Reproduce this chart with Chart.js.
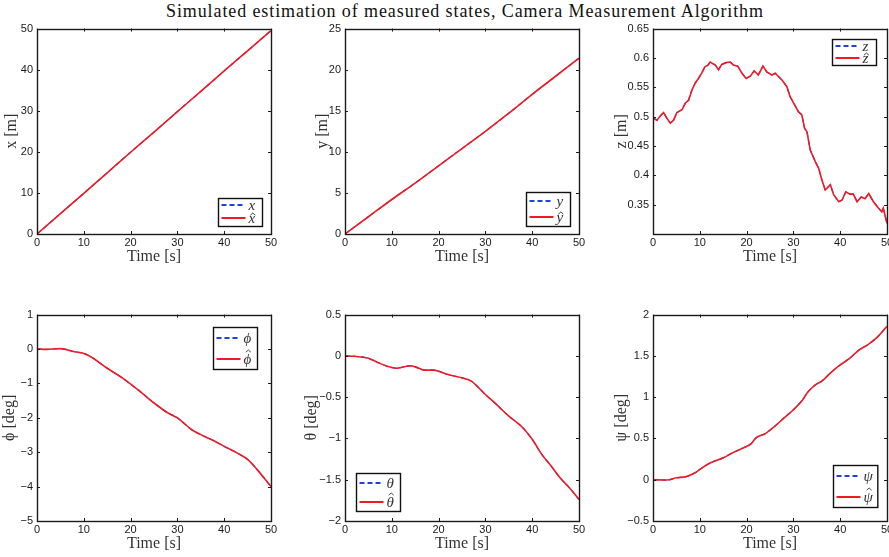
<!DOCTYPE html>
<html>
<head>
<meta charset="utf-8">
<script src="https://cdn.jsdelivr.net/npm/chart.js@4.4.1/dist/chart.umd.min.js"></script>
<style>
  body { margin: 0; background: #fff; overflow: hidden; width: 889px; height: 557px; position: relative; }
  #title { position: absolute; left: 166px; top: 1px; white-space: nowrap;
           font: 18px 'Liberation Serif', serif; color: #111; }
  canvas { position: absolute; }
</style>
</head>
<body>
<div id="title"><span id="titleText">Simulated estimation of measured states, Camera Measurement Algorithm</span></div>
<canvas id="cx"></canvas>
<canvas id="cy"></canvas>
<canvas id="cz"></canvas>
<canvas id="cphi"></canvas>
<canvas id="ctheta"></canvas>
<canvas id="cpsi"></canvas>
<script>
// time axis, same for every panel
var timeTicks = [0, 10, 20, 30, 40, 50];

// x position [m]
var tX = [0, 5, 10, 15, 20, 25, 30, 35, 40, 45, 50];
var xPos = [0, 4.95, 9.9, 14.9, 19.9, 24.8, 29.8, 34.7, 39.7, 44.6, 49.5];
var xTicks = [0, 10, 20, 30, 40, 50];

// y position [m]
var tY = [0, 5, 10, 15, 20, 25, 30, 35, 40, 45, 50];
var yPos = [0, 2.1, 4.2, 6.2, 8.3, 10.4, 12.5, 14.7, 17.0, 19.2, 21.4];
var yTicks = [0, 5, 10, 15, 20, 25];

// z position [m] (noisy)
var tZ = [0.1, 0.85, 1.55, 2.25, 3.0, 3.7, 4.4, 5.1, 6.2, 6.9, 7.6, 8.3, 9.0, 9.7, 10.4, 11.1, 11.8, 12.2,
          13.3, 14.0, 14.7, 15.6, 16.5, 17.2, 18.1, 19.0, 19.9, 20.8, 21.6, 22.5, 23.5, 24.3, 25.4, 26.1,
          27.6, 28.6, 29.3, 30.2, 31.1, 31.8, 32.4, 32.9, 33.6, 34.7, 35.4, 36.1, 36.8, 37.9, 38.6, 39.7,
          40.4, 41.2, 42.1, 42.8, 43.6, 44.5, 45.3, 46.1, 47.1, 48.2, 48.9, 49.2, 50];
var zPos = [0.497, 0.494, 0.501, 0.507, 0.497, 0.489, 0.494, 0.507, 0.512, 0.523, 0.528, 0.545, 0.557, 0.565,
            0.574, 0.585, 0.588, 0.593, 0.588, 0.580, 0.589, 0.592, 0.593, 0.588, 0.586, 0.574, 0.565, 0.569,
            0.578, 0.571, 0.586, 0.576, 0.571, 0.574, 0.562, 0.551, 0.534, 0.521, 0.508, 0.503, 0.480, 0.474,
            0.443, 0.423, 0.412, 0.392, 0.375, 0.384, 0.367, 0.355, 0.358, 0.372, 0.368, 0.368, 0.355, 0.363,
            0.360, 0.369, 0.355, 0.344, 0.338, 0.344, 0.318];
var zTicks = [0.35, 0.4, 0.45, 0.5, 0.55, 0.6, 0.65];

// roll phi [deg]
var tPhi = [0, 2, 5, 8, 10, 11, 12, 15, 18, 20, 22, 25, 28, 30, 33, 35, 38, 40, 43, 45, 47, 50];
var phiVal = [0, -0.01, 0.01, -0.08, -0.13, -0.19, -0.27, -0.56, -0.82, -1.02, -1.23, -1.57, -1.86, -2.0,
              -2.34, -2.49, -2.68, -2.83, -3.04, -3.21, -3.5, -4.0];
var phiTicks = [-5, -4, -3, -2, -1, 0, 1];

// pitch theta [deg]
var tTheta = [0, 2, 5, 7, 9, 11, 12, 14, 15, 17, 19, 20, 22, 25, 27, 28, 30, 32, 35, 38, 40, 42, 44, 46, 48, 50];
var thetaVal = [0, -0.005, -0.03, -0.08, -0.125, -0.15, -0.14, -0.12, -0.133, -0.173, -0.173, -0.185, -0.226,
                -0.266, -0.306, -0.355, -0.468, -0.569, -0.73, -0.87, -1.01, -1.19, -1.33, -1.48, -1.6, -1.74];
var thetaTicks = [-2, -1.5, -1, -0.5, 0, 0.5];

// yaw psi [deg]
var tPsi = [0, 3, 5, 7, 9, 10, 12, 15, 17, 19, 21, 22, 24, 26, 28, 30, 32, 33, 35, 36, 38, 40, 42, 44, 46, 48, 50];
var psiVal = [0, -0.004, 0.024, 0.036, 0.084, 0.125, 0.197, 0.265, 0.326, 0.378, 0.438, 0.506, 0.559, 0.647,
              0.748, 0.848, 0.969, 1.057, 1.162, 1.19, 1.298, 1.39, 1.47, 1.57, 1.64, 1.73, 1.86];
var psiTicks = [-0.5, 0, 0.5, 1, 1.5, 2];

// fit the title to the width it has in the figure
(function () {
  var s = document.getElementById('titleText');
  var w = s.getBoundingClientRect().width;
  var n = s.textContent.length - 1;
  s.style.letterSpacing = ((597 - w) / n) + 'px';
})();

var TICK_FONT = { family: "'Liberation Sans', Arial, sans-serif", size: 11 };
var LABEL_FONT = { family: "'Liberation Serif', serif", size: 16 };
var W_Y = 44, H_X = 36, PAD_T = 10, PAD_R = 10, PLOT_W = 234;
var HAT = '\u0302';

function fmt(v) {
  var s = String(+v.toFixed(2));
  return s.replace('-', '\u2212');
}

// MATLAB style box, inward tick marks and legend inside the axes
var matlabBox = {
  id: 'matlabBox',
  afterDraw: function (chart, args, o) {
    var ctx = chart.ctx, a = chart.chartArea;
    var xs = chart.scales.x, ys = chart.scales.y;
    ctx.save();
    ctx.strokeStyle = '#1a1a1a';
    ctx.lineWidth = 1;
    ctx.beginPath();
    xs.ticks.forEach(function (t) {
      var p = Math.round(xs.getPixelForValue(t.value)) + 0.5;
      ctx.moveTo(p, a.bottom); ctx.lineTo(p, a.bottom - 3);
      ctx.moveTo(p, a.top); ctx.lineTo(p, a.top + 3);
    });
    ys.ticks.forEach(function (t) {
      var p = Math.round(ys.getPixelForValue(t.value)) + 0.5;
      ctx.moveTo(a.left, p); ctx.lineTo(a.left + 3, p);
      ctx.moveTo(a.right, p); ctx.lineTo(a.right - 3, p);
    });
    ctx.stroke();
    ctx.lineWidth = 1.4;
    ctx.strokeRect(Math.round(a.left) + 0.5, Math.round(a.top) + 0.5,
                   Math.round(a.right - a.left), Math.round(a.bottom - a.top));

    // legend
    var sets = chart.data.datasets;
    ctx.font = 'italic 15px "Liberation Serif", serif';
    var lw = 0;
    sets.forEach(function (d) { lw = Math.max(lw, ctx.measureText(d.label.replace(HAT, '')).width); });
    var w = Math.max(o.boxW || 44, 29 + lw + 6);
    var h = sets.length * o.rowGap + 2;
    var bx = o.corner.indexOf('w') >= 0 ? a.left + o.gapX : a.right - o.gapX - w;
    var by = o.corner.indexOf('n') >= 0 ? a.top + o.gapY : a.bottom - o.gapY - h;
    bx = Math.round(bx) + 0.5; by = Math.round(by) + 0.5;
    ctx.fillStyle = '#fff';
    ctx.fillRect(bx, by, w, h);
    ctx.strokeStyle = '#111';
    ctx.lineWidth = 1.4;
    ctx.strokeRect(bx, by, w, h);
    sets.forEach(function (d, i) {
      var ry = Math.round(by + 1 + o.rowGap * (i + 0.45) + (i ? o.hatShift || 0 : 0));
      ctx.beginPath();
      ctx.strokeStyle = d.borderColor;
      ctx.lineWidth = 2;
      ctx.setLineDash(d.borderDash || []);
      ctx.moveTo(bx + 3, ry); ctx.lineTo(bx + 27, ry);
      ctx.stroke();
      ctx.setLineDash([]);
      ctx.fillStyle = '#333';
      ctx.textBaseline = 'middle';
      ctx.textAlign = 'left';
      var base = d.label.replace(HAT, '');
      ctx.fillText(base, bx + 30, ry + 1);
      if (d.label.indexOf(HAT) >= 0) {
        // the circumflex accent over the letter
        var cx = bx + 30 + ctx.measureText(base).width / 2 + 1;
        var top = ry - o.hatLift;
        ctx.beginPath();
        ctx.strokeStyle = '#333';
        ctx.lineWidth = 0.9;
        ctx.moveTo(cx - 2.5, top + 2.2);
        ctx.lineTo(cx, top);
        ctx.lineTo(cx + 2.5, top + 2.2);
        ctx.stroke();
      }
    });
    ctx.restore();
  }
};

function makePanel(p) {
  var cv = document.getElementById(p.id);
  cv.width = W_Y + PLOT_W + PAD_R;
  cv.height = PAD_T + p.plotH + H_X;
  cv.style.left = (p.plotLeft - W_Y) + 'px';
  cv.style.top = (p.plotTop - PAD_T) + 'px';
  var ytPad = p.yTitleX - (p.plotLeft - W_Y) - LABEL_FONT.size * 0.6;
  var pts = p.t.map(function (t, i) { return { x: t, y: p.v[i] }; });
  var smooth = p.smooth ? 'monotone' : 'default';
  return new Chart(cv.getContext('2d'), {
    type: 'line',
    data: {
      datasets: [
        { label: p.names[0], data: pts, borderColor: '#2040e0', borderWidth: 1.2, borderDash: [5, 3],
          pointRadius: 0, order: 1, cubicInterpolationMode: smooth },
        { label: p.names[1], data: pts, borderColor: '#ee1b24', borderWidth: 1.6,
          pointRadius: 0, order: 0, cubicInterpolationMode: smooth }
      ]
    },
    options: {
      responsive: false,
      animation: false,
      devicePixelRatio: 1,
      layout: { padding: { top: PAD_T, right: PAD_R, left: 0, bottom: 0 } },
      plugins: {
        legend: { display: false },
        tooltip: { enabled: false },
        matlabBox: p.legend
      },
      scales: {
        x: {
          type: 'linear', min: 0, max: 50,
          afterBuildTicks: function (s) { s.ticks = timeTicks.map(function (v) { return { value: v }; }); },
          afterFit: function (s) { s.height = H_X; },
          grid: { display: false, drawTicks: false },
          border: { display: false },
          ticks: { font: TICK_FONT, color: '#1a1a1a', padding: 2, maxRotation: 0, callback: fmt },
          title: { display: true, text: 'Time [s]', font: LABEL_FONT, color: '#333', padding: { top: 0, bottom: 4 } }
        },
        y: {
          type: 'linear', min: p.yMin, max: p.yMax,
          afterBuildTicks: function (s) { s.ticks = p.yTicks.map(function (v) { return { value: v }; }); },
          afterFit: function (s) { s.width = W_Y; },
          grid: { display: false, drawTicks: false },
          border: { display: false },
          ticks: { font: TICK_FONT, color: '#1a1a1a', padding: 4, callback: fmt },
          title: { display: true, text: p.yTitle, font: LABEL_FONT, color: '#333', padding: { top: ytPad, bottom: 0 } }
        }
      }
    },
    plugins: [matlabBox]
  });
}

var panels = [
  { id: 'cx', t: tX, v: xPos, yMin: 0, yMax: 50, yTicks: xTicks, yTitle: 'x [m]', names: ['x', 'x' + HAT],
    plotLeft: 37, plotTop: 28, plotH: 206, yTitleX: 12, smooth: true,
    legend: { corner: 'se', gapX: 9, gapY: 8, rowGap: 13, hatLift: 5 } },
  { id: 'cy', t: tY, v: yPos, yMin: 0, yMax: 25, yTicks: yTicks, yTitle: 'y [m]', names: ['y', 'y' + HAT],
    plotLeft: 345, plotTop: 28, plotH: 206, yTitleX: 323, smooth: true,
    legend: { corner: 'se', gapX: 9, gapY: 8, rowGap: 16, hatLift: 5 } },
  { id: 'cz', t: tZ, v: zPos, yMin: 0.3, yMax: 0.65, yTicks: zTicks, yTitle: 'z [m]', names: ['z', 'z' + HAT],
    plotLeft: 653, plotTop: 28, plotH: 206, yTitleX: 622, smooth: false,
    legend: { corner: 'ne', gapX: 11, gapY: 10, rowGap: 12, hatLift: 5 } },
  { id: 'cphi', t: tPhi, v: phiVal, yMin: -5, yMax: 1, yTicks: phiTicks, yTitle: '\u03d5 [deg]',
    names: ['\u03d5', '\u03d5' + HAT], plotLeft: 37, plotTop: 314, plotH: 207, yTitleX: 10, smooth: true,
    legend: { corner: 'ne', gapX: 14, gapY: 12, rowGap: 20, hatLift: 9, hatShift: 1 } },
  { id: 'ctheta', t: tTheta, v: thetaVal, yMin: -2, yMax: 0.5, yTicks: thetaTicks, yTitle: '\u03b8 [deg]',
    names: ['\u03b8', '\u03b8' + HAT], plotLeft: 345, plotTop: 314, plotH: 207, yTitleX: 312, smooth: true,
    legend: { corner: 'sw', gapX: 11, gapY: 10, rowGap: 18, hatLift: 9, hatShift: 1 } },
  { id: 'cpsi', t: tPsi, v: psiVal, yMin: -0.5, yMax: 2, yTicks: psiTicks, yTitle: '\u03c8 [deg]',
    names: ['\u03c8', '\u03c8' + HAT], plotLeft: 653, plotTop: 314, plotH: 207, yTitleX: 622, smooth: true,
    legend: { corner: 'se', gapX: 10, gapY: 14, rowGap: 20, hatLift: 9, hatShift: 1 } }
];

panels.forEach(makePanel);
</script>
</body>
</html>
